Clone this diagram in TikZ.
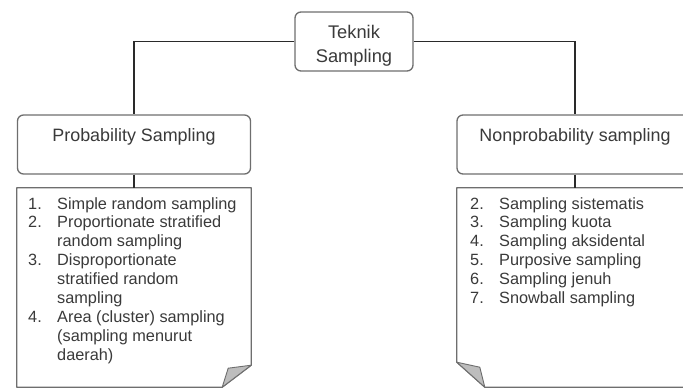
\documentclass[tikz,border=0pt]{standalone}
\usepackage{fontspec}
\setmainfont{Liberation Sans}
\usetikzlibrary{calc}
\definecolor{boxgray}{HTML}{6E6E6E}
\definecolor{txtgray}{HTML}{3A3A3A}
\definecolor{flapgray}{HTML}{BDBDBD}
\definecolor{linedark}{HTML}{2A2A2A}
\begin{document}
\begin{tikzpicture}[x=1pt,y=-1pt,
  hdrbox/.style={draw=boxgray, line width=1.3pt, rounded corners=6pt, inner sep=0pt, fill=white},
  notebox/.style={draw=none, inner sep=0pt, minimum width=234pt, minimum height=199pt},
  noteline/.style={draw=boxgray, line width=1.3pt, fill=white, line join=round},
  flap/.style={draw=boxgray, line width=0.9pt, fill=flapgray, line join=round},
  conn/.style={draw=linedark, line width=1.5pt},
  titletxt/.style={font=\fontsize{18.3}{24}\selectfont, text=txtgray, align=center, inner sep=0pt},
  hdrtxt/.style={font=\fontsize{17.9}{21}\selectfont, text=txtgray, inner sep=0pt},
  listtxt/.style={font=\fontsize{16.3}{18.9}\selectfont, text=txtgray, inner sep=0pt}
]
\clip (0,0) rectangle (683,388);
\useasboundingbox (0,0) rectangle (683,388);

% title
\node[hdrbox, minimum width=118pt, minimum height=59pt] (tk) at (354,41.5) {};
\node[titletxt] (tkt) at (354,45.3) {Teknik\\Sampling};

% headers
\node[hdrbox, minimum width=233pt, minimum height=59pt] (pb) at (134,144.5) {};
\node[hdrtxt, anchor=base] (pbt) at (134,141.5) {Probability Sampling};
\node[hdrbox, minimum width=236pt, minimum height=59pt] (np) at (575,144.5) {};
\node[hdrtxt, anchor=base] (npt) at (575,141.5) {Nonprobability sampling};

% notes
\node[notebox] (ln) at (134,287.5) {};
\node[notebox, minimum width=236pt] (rn) at (575,287.5) {};

\draw[noteline] (ln.north west) -- (ln.north east) -- ($(ln.south east)+(0,-22)$)
  -- ($(ln.south east)+(-29,0)$) -- (ln.south west) -- cycle;
\draw[flap] ($(ln.south east)+(0,-22)$) -- ($(ln.south east)+(-23,-19)$) -- ($(ln.south east)+(-29,0)$) -- cycle;

\draw[noteline] (rn.north west) -- (rn.north east) -- (rn.south east)
  -- ($(rn.south west)+(28,0)$) -- ($(rn.south west)+(0,-25)$) -- cycle;
\draw[flap] ($(rn.south west)+(0,-25)$) -- ($(rn.south west)+(23,-20)$) -- ($(rn.south west)+(28,0)$) -- cycle;

% connectors
\draw[conn] (tk.west) -| (pb.north);
\draw[conn] (tk.east) -| (np.north);
\draw[conn] (pb.south) -- (ln.north);
\draw[conn] (np.south) -- (rn.north);

% left list
\foreach \n/\t [count=\i] in {1./{Simple random sampling}, 2./{Proportionate stratified}, /{random sampling}, 3./{Disproportionate}, /{stratified random}, /{sampling}, 4./{Area (cluster) sampling}, /{(sampling menurut}, /{daerah)}} {
  \pgfmathsetmacro\yy{209+(\i-1)*18.9}
  \node[listtxt, anchor=base west] (la\i) at (28,\yy) {\n};
  \node[listtxt, anchor=base west] (lb\i) at (57,\yy) {\t};
}

% right list
\foreach \n/\t [count=\i] in {2./{Sampling sistematis}, 3./{Sampling kuota}, 4./{Sampling aksidental}, 5./{Purposive sampling}, 6./{Sampling jenuh}, 7./{Snowball sampling}} {
  \pgfmathsetmacro\yy{209+(\i-1)*18.9}
  \node[listtxt, anchor=base west] (ra\i) at (470,\yy) {\n};
  \node[listtxt, anchor=base west] (rb\i) at (499,\yy) {\t};
}
\end{tikzpicture}
\end{document}
